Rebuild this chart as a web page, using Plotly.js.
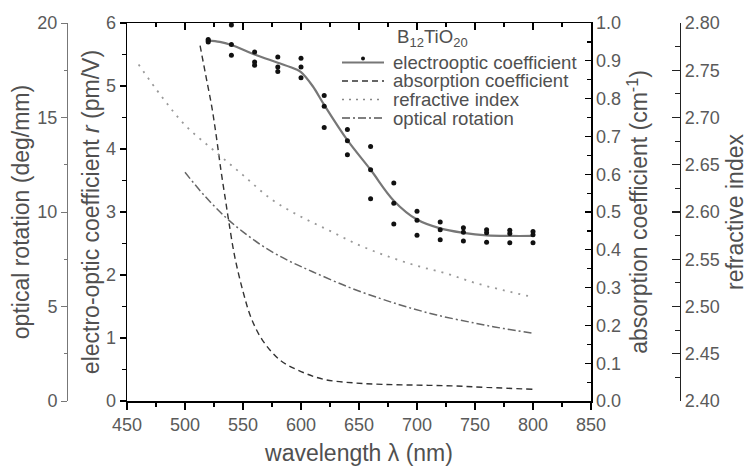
<!DOCTYPE html>
<html>
<head>
<meta charset="utf-8">
<script src="https://cdn.plot.ly/plotly-3.0.1.min.js"></script>
<style>html,body{margin:0;padding:0;background:#fff;}#chart{width:748px;height:470px;}</style>
</head>
<body>
<div id="chart"></div>
<script>
// ---- data ----
const eoWavelength = [520, 540, 560, 580, 600, 620, 640, 660, 680, 700, 720, 740, 760, 780, 800];
const eoRunA = [5.74, 5.97, 5.54, 5.46, 5.44, 4.85, 4.31, 4.04, 3.46, 3.01, 2.84, 2.75, 2.72, 2.71, 2.69];
const eoRunB = [5.72, 5.66, 5.38, 5.30, 5.30, 4.68, 4.13, 3.67, 3.14, 2.87, 2.72, 2.68, 2.67, 2.66, 2.64];
const eoRunC = [5.70, 5.49, 5.33, 5.23, 5.13, 4.34, 3.91, 3.21, 2.81, 2.63, 2.56, 2.54, 2.52, 2.51, 2.51];

const fitWavelength = [520, 530, 540, 560, 580, 595, 600, 610, 620, 640, 660, 680, 700, 720, 740, 760, 780, 800];
const fitEO = [5.72, 5.70, 5.65, 5.50, 5.37, 5.27, 5.22, 5.00, 4.70, 4.14, 3.67, 3.18, 2.88, 2.74, 2.67, 2.63, 2.62, 2.62];

const absWavelength = [513, 518, 523, 527, 531, 535, 538, 543, 550, 557, 567, 582, 600, 620, 645, 670, 700, 730, 760, 800];
const absCoeff = [0.94, 0.86, 0.78, 0.70, 0.61, 0.53, 0.47, 0.38, 0.29, 0.22, 0.16, 0.108, 0.078, 0.057, 0.048, 0.044, 0.042, 0.040, 0.036, 0.031];

const riWavelength = [460, 480, 500, 525, 550, 575, 600, 625, 650, 675, 700, 725, 750, 775, 800];
const refIndex = [2.756, 2.722, 2.692, 2.665, 2.639, 2.613, 2.595, 2.580, 2.565, 2.553, 2.543, 2.535, 2.525, 2.517, 2.510];

const orWavelength = [500, 517, 535, 550, 570, 590, 610, 640, 668, 690, 717, 750, 775, 800];
const optRotation = [12.1, 10.85, 9.72, 8.95, 8.08, 7.4, 6.84, 6.05, 5.43, 5.0, 4.55, 4.12, 3.83, 3.58];

const legendTitle = 'B<sub>12</sub>TiO<sub>20</sub>';
const legendLabels = ['electrooptic coefficient', 'absorption coefficient', 'refractive index', 'optical rotation'];

// ---- build point lists ----
const eoX = [], eoY = [];
[eoRunA, eoRunB, eoRunC].forEach(run => run.forEach((v, i) => { eoX.push(eoWavelength[i]); eoY.push(v); }));

const W = 748, H = 470;
const X = px => px / W;
const Y = py => 1 - py / H;

const FONT = 'Liberation Sans, Arial, sans-serif';
const tickFont = {family: FONT, size: 18, color: '#5a5a5a'};
const titleFont = {family: FONT, size: 23, color: '#505050'};
const legendFont = {family: FONT, size: 18.6, color: '#505050'};

const traces = [
  {x: fitWavelength, y: fitEO, type: 'scatter', mode: 'lines', line: {color: '#777', width: 2.2, shape: 'spline'}, yaxis: 'y', xaxis: 'x', name: legendLabels[0] + ' fit'},
  {x: eoX, y: eoY, type: 'scatter', mode: 'markers', marker: {color: '#111', size: 5}, yaxis: 'y', xaxis: 'x', name: legendLabels[0]},
  {x: absWavelength, y: absCoeff, type: 'scatter', mode: 'lines', line: {color: '#333', width: 1.4, dash: '6px,4px', shape: 'spline'}, yaxis: 'y3', xaxis: 'x', name: legendLabels[1]},
  {x: riWavelength, y: refIndex, type: 'scatter', mode: 'lines', line: {color: '#999', width: 1.8, dash: '2px,6px', shape: 'spline'}, yaxis: 'y4', xaxis: 'x', name: legendLabels[2]},
  {x: orWavelength, y: optRotation, type: 'scatter', mode: 'lines', line: {color: '#666', width: 1.5, dash: '8px,3px,2px,3px', shape: 'spline'}, yaxis: 'y2', xaxis: 'x', name: legendLabels[3]},
  {x: [], y: [], type: 'scatter', xaxis: 'x2', yaxis: 'y', showlegend: false, hoverinfo: 'skip'}
];

const xDomain = [X(127), X(591)];
const yDomain = [Y(401), Y(23)];

const baseAxis = {showgrid: false, zeroline: false, showline: true, linecolor: '#000', tickcolor: '#000', tickfont: tickFont};

const legendRows = [62.5, 81, 99.5, 118];
const legendStyles = [
  {color: '#777', width: 2, dash: 'solid'},
  {color: '#333', width: 1.4, dash: '6px,4px'},
  {color: '#888', width: 1.6, dash: '2px,5px'},
  {color: '#555', width: 1.5, dash: '8px,3px,2px,3px'}
];
const shapes = legendStyles.map((ls, i) => ({
  type: 'line', xref: 'paper', yref: 'paper', x0: X(342), x1: X(384), y0: Y(legendRows[i]), y1: Y(legendRows[i]), line: ls
}));
shapes.push({type: 'circle', xref: 'paper', yref: 'paper', x0: X(361), x1: X(365), y0: Y(60.5), y1: Y(56.5), fillcolor: '#111', line: {width: 0}});

const annotations = [
  {text: legendTitle, xref: 'paper', yref: 'paper', x: X(395), y: Y(38), xanchor: 'left', yanchor: 'middle', showarrow: false, font: legendFont}
].concat(legendLabels.map((t, i) => ({
  text: t, xref: 'paper', yref: 'paper', x: X(391), y: Y(legendRows[i]), xanchor: 'left', yanchor: 'middle', showarrow: false, font: legendFont
})));

const layout = {
  width: W, height: H,
  margin: {l: 0, r: 0, t: 0, b: 0, pad: 0},
  paper_bgcolor: '#fff', plot_bgcolor: '#fff',
  showlegend: false,
  xaxis: Object.assign({}, baseAxis, {
    domain: xDomain, range: [450, 850], tick0: 450, dtick: 50, ticks: 'outside', ticklen: 7, tickwidth: 1.2, linewidth: 1.5,
    minor: {ticks: 'outside', dtick: 25, tick0: 450, ticklen: 4, tickcolor: '#000', showgrid: false},
    anchor: 'y', title: {text: 'wavelength λ (nm)', font: titleFont, standoff: 11}
  }),
  xaxis2: Object.assign({}, baseAxis, {
    domain: xDomain, range: [450, 850], tick0: 450, dtick: 50, ticks: 'inside', ticklen: 7, tickwidth: 1.2, linewidth: 1.5,
    minor: {ticks: 'inside', dtick: 25, tick0: 450, ticklen: 4, tickcolor: '#000', showgrid: false},
    overlaying: 'x', side: 'top', anchor: 'y', showticklabels: false
  }),
  yaxis: Object.assign({}, baseAxis, {
    domain: yDomain, range: [0, 6], dtick: 1, ticks: 'outside', ticklen: 6, tickwidth: 1.2, linewidth: 1.5,
    minor: {ticks: 'outside', dtick: 0.5, ticklen: 4, tickcolor: '#000', showgrid: false},
    anchor: 'x', side: 'left',
    title: {text: 'electro-optic coefficient <i>r</i> (pm/V)', font: titleFont, standoff: 0}
  }),
  yaxis2: Object.assign({}, baseAxis, {
    range: [0, 20], dtick: 5, ticks: 'outside', ticklen: 6, tickwidth: 1, linewidth: 1, linecolor: '#777', tickcolor: '#777',
    minor: {ticks: 'outside', dtick: 2.5, ticklen: 3, tickcolor: '#777', showgrid: false},
    overlaying: 'y', anchor: 'free', position: X(67), side: 'left',
    title: {text: 'optical rotation (deg/mm)', font: titleFont, standoff: 0}
  }),
  yaxis3: Object.assign({}, baseAxis, {
    range: [0, 1], dtick: 0.1, tickformat: '.1f', ticks: 'inside', ticklen: 6, tickwidth: 1.2, linewidth: 1.5,
    minor: {ticks: 'inside', dtick: 0.05, ticklen: 4, tickcolor: '#000', showgrid: false},
    overlaying: 'y', anchor: 'x', side: 'right',
    title: {text: 'absorption coefficient (cm<sup>-1</sup>)', font: titleFont, standoff: 11}
  }),
  yaxis4: Object.assign({}, baseAxis, {
    range: [2.4, 2.8], dtick: 0.05, tickformat: '.2f', ticks: 'inside', ticklen: 8, tickwidth: 1.2, linewidth: 1.2, linecolor: '#222', tickcolor: '#222',
    minor: {ticks: 'inside', dtick: 0.025, ticklen: 5, tickcolor: '#222', showgrid: false},
    overlaying: 'y', anchor: 'free', position: X(680), side: 'right',
    title: {text: 'refractive index', font: titleFont, standoff: 8}
  }),
  shapes: shapes,
  annotations: annotations
};

Plotly.newPlot('chart', traces, layout, {displayModeBar: false, staticPlot: true});
</script>
</body>
</html>
